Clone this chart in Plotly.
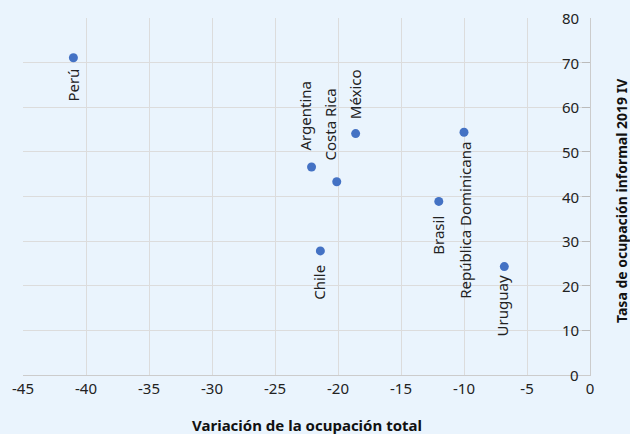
import plotly.graph_objects as go

countries = ["Perú", "Argentina", "Costa Rica", "México", "República Dominicana", "Brasil", "Chile", "Uruguay"]
variacion = [-41.0, -22.1, -20.1, -18.6, -10.0, -12.0, -21.4, -6.8]
informal = [71.1, 46.6, 43.3, 54.1, 54.4, 38.9, 27.8, 24.3]

x_ticks = [-45, -40, -35, -30, -25, -20, -15, -10, -5, 0]
y_ticks = [0, 10, 20, 30, 40, 50, 60, 70, 80]

# label placement (style only): side and pixel offsets
label_style = {
    "Perú": ("below", 0, -9),
    "Argentina": ("above", -6, 14),
    "Costa Rica": ("above", -7, 19),
    "México": ("above", -1, 12),
    "República Dominicana": ("below", 1, -8),
    "Brasil": ("below", -1, -12),
    "Chile": ("below", -1, -12),
    "Uruguay": ("below", -2, -7),
}

FONT = "Noto Sans, Open Sans, sans-serif"
BG = "#EAF4FD"

fig = go.Figure()
fig.add_trace(go.Scatter(
    x=variacion, y=informal, mode="markers",
    marker=dict(color="#4472C4", size=9),
    hoverinfo="text", text=countries, showlegend=False,
))

for c, xv, yv in zip(countries, variacion, informal):
    side, dx, dy = label_style[c]
    fig.add_annotation(
        x=xv, y=yv, text=c, showarrow=False, textangle=-90,
        xanchor="center", yanchor="top" if side == "below" else "bottom",
        xshift=dx, yshift=dy,
        font=dict(family=FONT, size=15, color="#222222"),
    )

# y tick labels drawn inside the plot, right-aligned next to the right axis
for v in y_ticks:
    fig.add_annotation(
        xref="paper", yref="y", x=1, y=v, text=str(v), showarrow=False,
        xanchor="right", yanchor="middle", xshift=-9,
        font=dict(family=FONT, size=15, color="#222222"),
    )

fig.add_annotation(
    xref="paper", yref="paper", x=0.5, y=-0.1405, xanchor="center", yanchor="middle",
    text="<b>Variación de la ocupación total</b>", showarrow=False,
    font=dict(family=FONT, size=15, color="#111111"),
)
fig.add_annotation(
    xref="paper", yref="paper", x=1.0545, y=0.49, xanchor="center", yanchor="middle",
    text="<b>Tasa de ocupación informal 2019 IV</b>", showarrow=False, textangle=-90,
    font=dict(family=FONT, size=14, color="#111111"),
)

fig.update_layout(
    width=630, height=434,
    margin=dict(l=21, r=40, t=18, b=59),
    paper_bgcolor=BG, plot_bgcolor=BG,
    font=dict(family=FONT, size=15, color="#222222"),
    xaxis=dict(
        range=[-45, 0], tickvals=x_ticks, ticktext=[str(v) for v in x_ticks],
        showgrid=True, gridcolor="#DCDCDC", gridwidth=1,
        showline=True, linecolor="#CCCCCC", linewidth=1,
        zeroline=False, ticks="", tickfont=dict(size=15),
    ),
    yaxis=dict(
        range=[0, 80], tickvals=y_ticks, showticklabels=False,
        side="right", ticks="inside", ticklen=8, tickcolor="#BBBBBB",
        showgrid=True, gridcolor="#DCDCDC", gridwidth=1,
        showline=True, linecolor="#CCCCCC", linewidth=1,
        zeroline=False,
    ),
)

fig.write_html(
    "out.html",
    config={"displayModeBar": False},
    post_script="document.body.style.margin='0';document.body.style.background='%s';" % BG,
)
